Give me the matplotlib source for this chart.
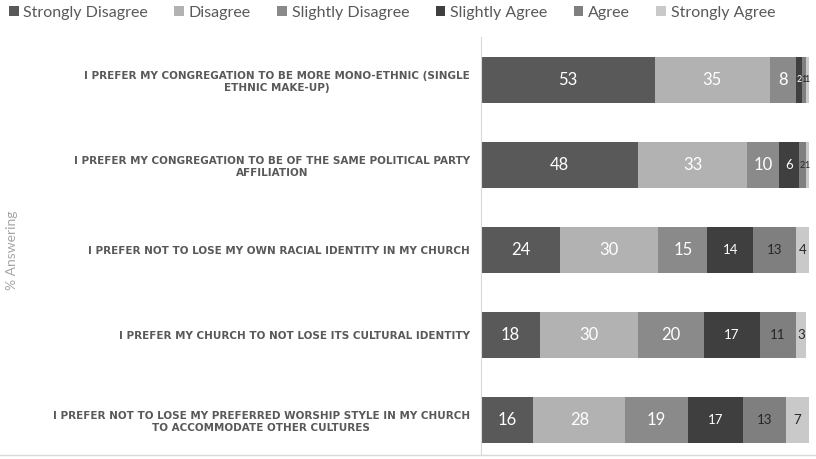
import matplotlib.pyplot as plt
from matplotlib.lines import Line2D

# Survey responses, % answering
statements = [
    'I PREFER MY CONGREGATION TO BE MORE MONO-ETHNIC (SINGLE\nETHNIC MAKE-UP)',
    'I PREFER MY CONGREGATION TO BE OF THE SAME POLITICAL PARTY\nAFFILIATION',
    'I PREFER NOT TO LOSE MY OWN RACIAL IDENTITY IN MY CHURCH',
    'I PREFER MY CHURCH TO NOT LOSE ITS CULTURAL IDENTITY',
    'I PREFER NOT TO LOSE MY PREFERRED WORSHIP STYLE IN MY CHURCH\nTO ACCOMMODATE OTHER CULTURES',
]
responses = ['Strongly Disagree', 'Disagree', 'Slightly Disagree',
             'Slightly Agree', 'Agree', 'Strongly Agree']

strongly_disagree = [53, 48, 24, 18, 16]
disagree = [35, 33, 30, 30, 28]
slightly_disagree = [8, 10, 15, 20, 19]
slightly_agree = [2, 6, 14, 17, 17]
agree = [1, 2, 13, 11, 13]
strongly_agree = [1, 1, 4, 3, 7]

series = [strongly_disagree, disagree, slightly_disagree,
          slightly_agree, agree, strongly_agree]
colors = ['#595959', '#b2b2b2', '#8a8a8a', '#3f3f3f', '#7f7f7f', '#c9c9c9']
label_colors = ['white', 'white', 'white', 'white', '#262626', '#262626']
label_sizes = [12, 12, 12, 9.5, 9.5, 9.5]

plt.rcParams['font.family'] = ['Lato', 'DejaVu Sans']

fig = plt.figure(figsize=(8.16, 4.59), dpi=100)
ax = fig.add_axes([481 / 816, 4 / 459, 328 / 816, 418 / 459])

y = list(range(len(statements)))
left = [0] * len(statements)
for vals, col, lc, ls, name in zip(series, colors, label_colors, label_sizes, responses):
    ax.barh(y, vals, left=left, height=0.55, color=col, label=name)
    for yi, v, l in zip(y, vals, left):
        size = ls if v > 2 else 6.5
        c = lc if (v > 2 or col == '#3f3f3f') else '#262626'
        ax.text(l + v / 2, yi, str(v), ha='center', va='center',
                color=c, fontsize=size)
    left = [a + b for a, b in zip(left, vals)]

ax.set_xlim(0, 100)
ax.set_ylim(4 + 35 / 85, -43 / 85)
ax.set_yticks(y)
ax.set_yticklabels(statements, fontsize=7.5, fontweight='bold', color='#595959',
                   family='DejaVu Sans')
for t in ax.get_yticklabels():
    t.set_multialignment('center')
ax.tick_params(axis='y', length=0, pad=8)
ax.set_xticks([])
for s in ['top', 'right', 'bottom']:
    ax.spines[s].set_visible(False)
ax.spines['left'].set_color('#d9d9d9')

# bottom rule across the figure
fig.add_artist(Line2D([0, 1], [4 / 459, 4 / 459], color='#d9d9d9', lw=1))

fig.text(12 / 816, 1 - 250 / 459, '% Answering', rotation=90, ha='center',
         va='center', fontsize=10, color='#a6a6a6')

handles, labels = ax.get_legend_handles_labels()
leg = fig.legend(handles, labels, loc='center', bbox_to_anchor=(392 / 816, 1 - 13 / 459),
                 ncol=6, frameon=False, fontsize=11.5, handlelength=0.6,
                 handleheight=0.6, handletextpad=0.3, columnspacing=1.65)
for t in leg.get_texts():
    t.set_color('#595959')

fig.savefig('out.png', dpi=100)
